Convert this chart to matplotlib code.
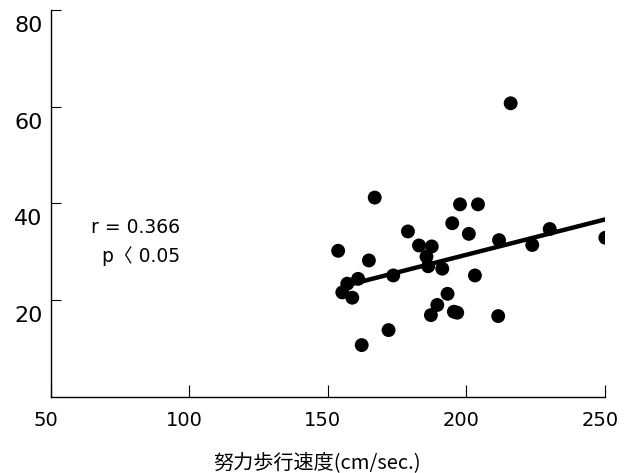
import matplotlib
matplotlib.use("Agg")
import matplotlib.pyplot as plt
import matplotlib.transforms as mtransforms

plt.rcParams['font.family'] = ['DejaVu Sans', 'Noto Sans CJK JP']

# 努力歩行速度 (cm/sec.) vs value
speed = [216.0, 166.9, 197.7, 204.2, 194.9, 178.9, 200.9, 153.7, 182.9, 187.5,
         211.8, 230.1, 250.2, 223.8, 164.8, 185.6, 186.2, 191.3, 173.6, 203.1,
         160.9, 157.0, 155.2, 158.8, 193.2, 189.5, 187.2, 195.5, 196.7, 211.5,
         171.9, 162.2]
value = [60.7, 41.2, 39.8, 39.8, 35.9, 34.2, 33.7, 30.2, 31.3, 31.1,
         32.4, 34.7, 32.9, 31.4, 28.2, 29.0, 27.0, 26.5, 25.1, 25.1,
         24.4, 23.4, 21.6, 20.5, 21.3, 19.0, 16.9, 17.6, 17.4, 16.7,
         13.8, 10.7]

# regression line end points
reg_x = [159.1, 250.2]
reg_y = [23.4, 36.7]

x_ticks = [50, 100, 150, 200, 250]
y_ticks = [20, 40, 60, 80]

fig = plt.figure(figsize=(6.3, 4.73), dpi=100)
ax = fig.add_axes([0.081, 0.161, 0.879, 0.818])

ax.scatter(speed, value, s=100, color='black', edgecolors='none', zorder=3)
ax.plot(reg_x, reg_y, color='black', linewidth=3.2, solid_capstyle='butt', zorder=2)

ax.set_xlim(50, 250)
ax.set_ylim(0, 80)
ax.set_xticks(x_ticks)
ax.set_yticks(y_ticks)
ax.spines['top'].set_visible(False)
ax.spines['right'].set_visible(False)
for sp in ax.spines.values():
    sp.set_linewidth(1.0)

ax.tick_params(axis='y', direction='in', length=7, width=0.8, labelsize=16, pad=6)
ax.tick_params(axis='x', direction='in', length=9, width=0.8, labelsize=14, pad=10)

# tick labels in the original sit a little off their ticks
for lab in ax.get_yticklabels():
    lab.set_transform(lab.get_transform() +
                      mtransforms.ScaledTranslation(0, -0.14, fig.dpi_scale_trans))
for lab in ax.get_xticklabels():
    lab.set_transform(lab.get_transform() +
                      mtransforms.ScaledTranslation(-0.05, 0, fig.dpi_scale_trans))

ax.set_xlabel('努力歩行速度(cm/sec.)', fontsize=14.5,
              family=['Noto Sans CJK JP', 'DejaVu Sans'])
ax.xaxis.label.set_va('center')
ax.xaxis.set_label_coords(0.48, -0.172)

ax.text(0.233, 0.437, 'r = 0.366', transform=ax.transAxes, fontsize=13.5,
        ha='right', va='center')
ax.text(0.233, 0.363, 'p〈 0.05', transform=ax.transAxes, fontsize=13.5,
        ha='right', va='center')

fig.savefig('out.png', dpi=100)
